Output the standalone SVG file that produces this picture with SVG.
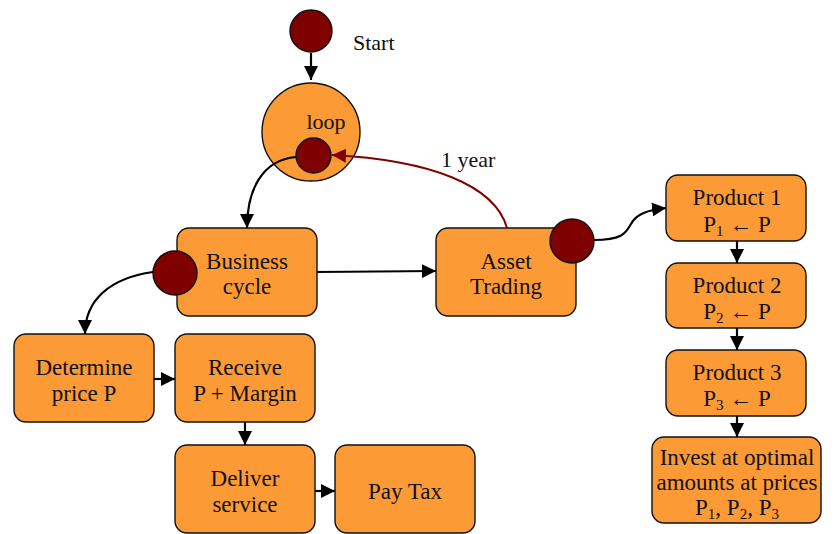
<svg xmlns="http://www.w3.org/2000/svg" width="835" height="534" viewBox="0 0 835 534">
<defs>
<style>
.box{fill:#FC9A35;stroke:#111;stroke-width:1.4}
.dot{fill:#7F0000;stroke:#111;stroke-width:1.4}
.t{font-family:"Liberation Serif","Times New Roman",serif;font-size:23px;fill:#111;text-anchor:middle}
.lbl{font-family:"Liberation Serif","Times New Roman",serif;font-size:22px;fill:#111}
.c{fill:none;stroke:#000;stroke-width:2.2}
.r{fill:none;stroke:#800000;stroke-width:2}
.sub{font-size:15px}
</style>
<marker id="ah" viewBox="0 0 10 10" refX="10" refY="5" markerWidth="14" markerHeight="14" markerUnits="userSpaceOnUse" orient="auto">
<path d="M0,0 L10,5 L0,10 z" fill="#000"/>
</marker>
<marker id="ahr" viewBox="0 0 10 10" refX="10" refY="5" markerWidth="14" markerHeight="14" markerUnits="userSpaceOnUse" orient="auto">
<path d="M0,0 L10,5 L0,10 z" fill="#800000"/>
</marker>
</defs>

<g id="start">
<circle class="dot" cx="311" cy="31" r="21"/>
<text class="lbl" x="353" y="50">Start</text>
</g>

<g id="loop">
<circle class="box" cx="311" cy="132" r="49"/>
<text class="lbl" x="326" y="129" text-anchor="middle">loop</text>
<circle class="dot" cx="313.5" cy="155.5" r="17.5"/>
</g>

<g id="business-cycle">
<rect class="box" x="177" y="228" width="140" height="88" rx="12"/>
<text class="t" x="247" y="269">Business</text>
<text class="t" x="247" y="294">cycle</text>
<circle class="dot" cx="175" cy="273" r="22"/>
</g>

<g id="asset-trading">
<rect class="box" x="436" y="228" width="140" height="88" rx="12"/>
<text class="t" x="506" y="269">Asset</text>
<text class="t" x="506" y="294">Trading</text>
<circle class="dot" cx="572" cy="241" r="22"/>
</g>

<g id="determine-price">
<rect class="box" x="14" y="334" width="140" height="88" rx="12"/>
<text class="t" x="84" y="375">Determine</text>
<text class="t" x="84" y="401">price P</text>
</g>

<g id="receive">
<rect class="box" x="175" y="334" width="140" height="88" rx="12"/>
<text class="t" x="245" y="375">Receive</text>
<text class="t" x="245" y="401">P + Margin</text>
</g>

<g id="deliver">
<rect class="box" x="175" y="445" width="140" height="88" rx="12"/>
<text class="t" x="245" y="486">Deliver</text>
<text class="t" x="245" y="512">service</text>
</g>

<g id="pay-tax">
<rect class="box" x="335" y="445" width="140" height="88" rx="12"/>
<text class="t" x="405" y="499">Pay Tax</text>
</g>

<g id="product1">
<rect class="box" x="666" y="175" width="140" height="66" rx="12"/>
<text class="t" x="737" y="205">Product 1</text>
<text class="t" x="737" y="232">P<tspan class="sub" dy="4">1</tspan><tspan dy="-4"> ← P</tspan></text>
</g>

<g id="product2">
<rect class="box" x="666" y="263" width="140" height="65" rx="12"/>
<text class="t" x="737" y="293">Product 2</text>
<text class="t" x="737" y="319">P<tspan class="sub" dy="4">2</tspan><tspan dy="-4"> ← P</tspan></text>
</g>

<g id="product3">
<rect class="box" x="666" y="350" width="140" height="66" rx="12"/>
<text class="t" x="737" y="380">Product 3</text>
<text class="t" x="737" y="406">P<tspan class="sub" dy="4">3</tspan><tspan dy="-4"> ← P</tspan></text>
</g>

<g id="invest">
<rect class="box" x="652" y="437" width="169" height="86" rx="12"/>
<text class="t" x="737" y="465">Invest at optimal</text>
<text class="t" x="737" y="490">amounts at prices</text>
<text class="t" x="737" y="515">P<tspan class="sub" dy="4">1</tspan><tspan dy="-4">, P</tspan><tspan class="sub" dy="4">2</tspan><tspan dy="-4">, P</tspan><tspan class="sub" dy="4">3</tspan></text>
</g>

<g id="connectors">
<path class="c" d="M311,53 L311,80" marker-end="url(#ah)"/>
<path class="c" d="M296,157 C262,160 247,190 247,228" marker-end="url(#ah)"/>
<path class="r" d="M507,228 C495,185 430,160 332,155" marker-end="url(#ahr)"/>
<path class="c" d="M317,272 L436,271" marker-end="url(#ah)"/>
<path class="c" d="M153,272 C110,278 85,300 85,334" marker-end="url(#ah)"/>
<path class="c" d="M154,379 L175,379" marker-end="url(#ah)"/>
<path class="c" d="M245,422 L245,445" marker-end="url(#ah)"/>
<path class="c" d="M315,491 L335,491" marker-end="url(#ah)"/>
<path class="c" d="M594,240 C624,240 626,232 631,224 C636,214 648,210 666,208" marker-end="url(#ah)"/>
<path class="c" d="M737,241 L737,263" marker-end="url(#ah)"/>
<path class="c" d="M737,328 L737,350" marker-end="url(#ah)"/>
<path class="c" d="M737,416 L737,437" marker-end="url(#ah)"/>
<text class="lbl" x="441" y="167">1 year</text>
</g>
</svg>
